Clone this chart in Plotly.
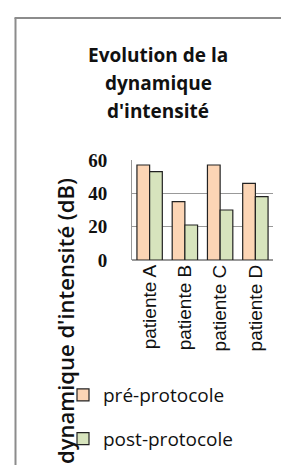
import plotly.graph_objects as go

categories = ["patiente A", "patiente B", "patiente C", "patiente D"]
pre_protocole = [57, 35, 57, 46]
post_protocole = [53, 21, 30, 38]
series_names = ["pré-protocole", "post-protocole"]
y_ticks = [0, 20, 40, 60]
title_lines = ["Evolution de la", "dynamique", "d'intensité"]
y_title = "dynamique d'intensité (dB)"

W, H = 289, 465
L, R, T, B = 124, 24, 152, 213
pw, ph = W - L - R, H - T - B

def px_x(p):
    return (p - L) / pw

def px_y(p):
    return (H - B - p) / ph

fig = go.Figure()
fig.add_trace(go.Bar(x=categories, y=pre_protocole, name=series_names[0],
                     marker=dict(color="#FCD5B5", line=dict(color="#222222", width=1.2)),
                     legendgroup="a"))
fig.add_trace(go.Bar(x=categories, y=post_protocole, name=series_names[1],
                     marker=dict(color="#D7E4BD", line=dict(color="#222222", width=1.2)),
                     legendgroup="b"))

fig.update_layout(
    width=W, height=H,
    margin=dict(l=L, r=R, t=T, b=B, pad=0),
    paper_bgcolor="white", plot_bgcolor="white",
    barmode="group", bargap=0.28, bargroupgap=0,
    font=dict(family="Open Sans", color="#111111"),
    legend=dict(x=px_x(55), y=px_y(368), xanchor="left", yanchor="top",
                font=dict(family="Open Sans", size=19, color="#111111"),
                tracegroupgap=16, traceorder="grouped", itemwidth=30,
                bgcolor="rgba(0,0,0,0)"),
    showlegend=True,
)

# title lines
for line, yc in zip(title_lines, [47, 75, 103]):
    fig.add_annotation(text="<b>" + line + "</b>", xref="paper", yref="paper",
                       x=px_x(150), y=px_y(yc), xanchor="center", yanchor="middle",
                       showarrow=False,
                       font=dict(family="Open Sans", size=19, color="#111111"))

# y-axis title
fig.add_annotation(text=y_title, xref="paper", yref="paper",
                   x=px_x(57), y=px_y(313), xanchor="center", yanchor="middle",
                   textangle=-90, showarrow=False,
                   font=dict(family="Open Sans", size=22, color="#111111", weight=600))

fig.update_xaxes(showline=False, ticks="", tickangle=-90,
                 tickfont=dict(family="Liberation Sans", size=19, color="#111111"),
                 showgrid=False)
fig.update_yaxes(range=[0, 60], tickvals=y_ticks, showgrid=True, gridcolor="#999999",
                 gridwidth=1, showline=True, linecolor="#999999", linewidth=1,
                 ticks="", ticklen=0, ticklabelstandoff=20,
                 tickfont=dict(family="Liberation Serif", size=19, color="#111111",
                               weight="bold"),
                 zeroline=True, zerolinecolor="#999999")

# outer chart frame (left and top edges visible)
fig.add_shape(type="line", xref="paper", yref="paper",
              x0=px_x(7.5), x1=px_x(7.5), y0=px_y(10), y1=px_y(470),
              line=dict(color="#8c8c8c", width=2))
fig.add_shape(type="line", xref="paper", yref="paper",
              x0=px_x(6.5), x1=px_x(295), y0=px_y(10), y1=px_y(10),
              line=dict(color="#8c8c8c", width=2))

fig.write_html("out.html")
